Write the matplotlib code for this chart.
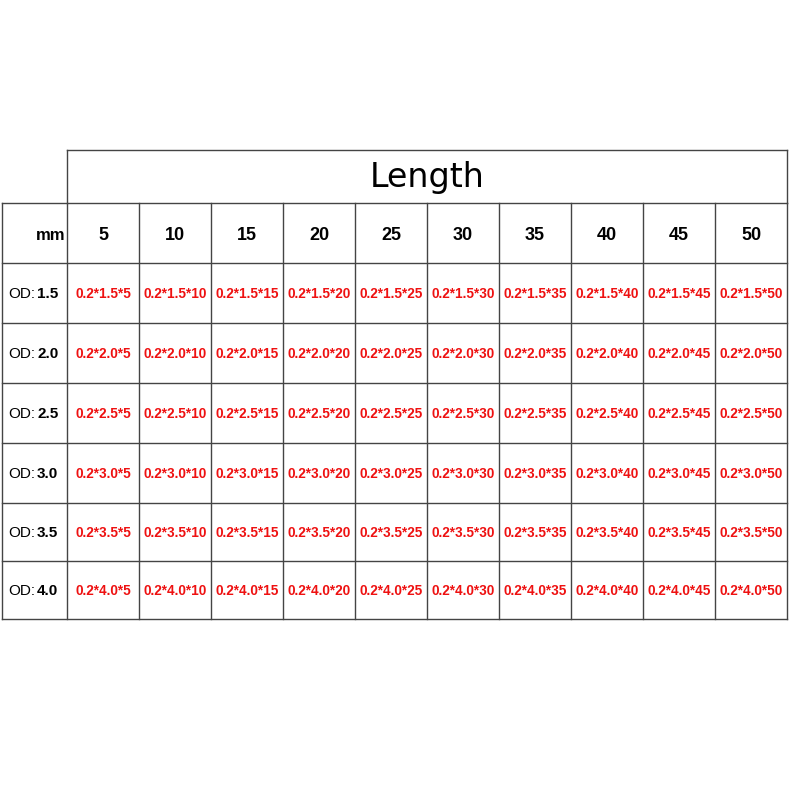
import matplotlib
matplotlib.use("Agg")
import matplotlib.pyplot as plt

lengths = [5, 10, 15, 20, 25, 30, 35, 40, 45, 50]
ods = ["1.5", "2.0", "2.5", "3.0", "3.5", "4.0"]
wall = "0.2"
title = "Length"
unit = "mm"

fig = plt.figure(figsize=(7.9, 7.9), dpi=100)
ax = fig.add_axes([0, 0, 1, 1])
ax.set_xlim(0, 790)
ax.set_ylim(790, 0)
ax.axis("off")

xs = [2, 67] + [67 + 72 * (i + 1) for i in range(len(lengths))]
ys = [203, 263, 323, 383, 443, 503, 561, 619]
lc = "#444444"
lw = 1.0
ax.plot([67, xs[-1]], [150, 150], color=lc, lw=lw)
ax.plot([67, 67], [150, 203], color=lc, lw=lw)
ax.plot([xs[-1], xs[-1]], [150, 203], color=lc, lw=lw)
for y in ys:
    ax.plot([xs[0], xs[-1]], [y, y], color=lc, lw=lw)
for x in xs:
    ax.plot([x, x], [ys[0], ys[-1]], color=lc, lw=lw)

fam = ["Liberation Sans", "DejaVu Sans"]
ax.text((67 + xs[-1]) / 2, 177, title, ha="center", va="center", fontsize=24,
        family=["DejaVu Sans"])
ax.text(65, 235, unit, ha="right", va="center", fontsize=12, weight="bold", family=fam)
for i, L in enumerate(lengths):
    ax.text((xs[i + 1] + xs[i + 2]) / 2, 235, str(L), ha="center", va="center",
            fontsize=13, weight="bold", family=fam)
for r, od in enumerate(ods):
    yc = (ys[r + 1] + ys[r + 2]) / 2 + 1
    ax.text(35, yc, "OD:", ha="right", va="center", fontsize=11, family=fam)
    ax.text(37, yc, od, ha="left", va="center", fontsize=11, weight="bold", family=fam)
    for i, L in enumerate(lengths):
        ax.text((xs[i + 1] + xs[i + 2]) / 2, yc, f"{wall}*{od}*{L}", ha="center",
                va="center", fontsize=9.8, weight="bold", color="#ee1111", family=fam)

fig.savefig("out.png", dpi=100, facecolor="white")
